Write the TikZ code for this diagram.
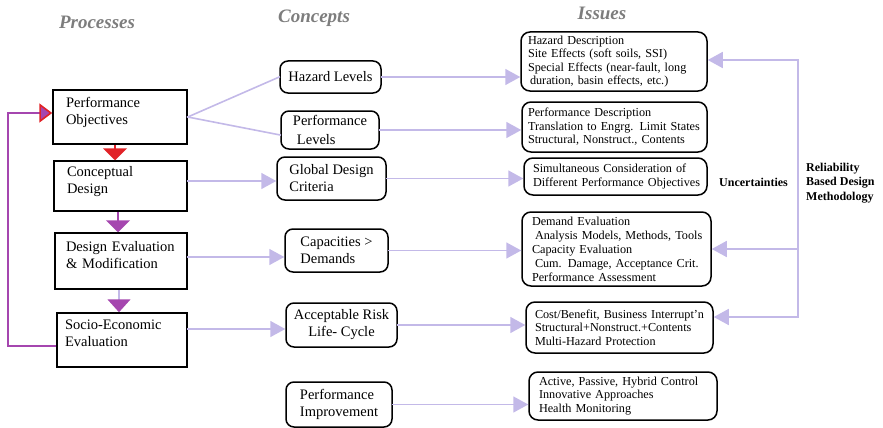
\documentclass[tikz,border=0pt]{standalone}
\usepackage{fontspec}
\setmainfont{Liberation Serif}
\usetikzlibrary{arrows.meta,positioning}
\hyphenpenalty=10000
\exhyphenpenalty=10000

\definecolor{lav}{RGB}{195,185,232}
\definecolor{ppurple}{RGB}{165,70,175}
\definecolor{rred}{RGB}{225,35,40}
\definecolor{ttlgray}{RGB}{125,125,125}

\tikzset{
  procbox/.style={draw, line width=1.5pt, rectangle, align=left, inner xsep=11pt, inner ysep=0pt,
    text depth=30pt, font=\fontsize{14.5}{17}\selectfont},
  concbox/.style={draw, line width=1.5pt, rounded corners=8pt, inner sep=0pt,
    font=\fontsize{14.5}{17}\selectfont},
  issuebox/.style={draw, line width=1.5pt, rounded corners=9pt, align=left, inner xsep=5pt, inner ysep=0pt,
    font=\fontsize{12.2}{13.4}\selectfont},
  ttl/.style={font=\fontsize{19}{22}\selectfont\bfseries\itshape, text=ttlgray},
  bflabel/.style={font=\fontsize{12}{14.5}\selectfont\bfseries, inner sep=0pt},
  lavline/.style={lav, line width=1.6pt, line cap=rect},
  lavarrow/.style={lavline, -{Triangle[length=15pt,width=16pt]}},
}

\begin{document}
\begin{tikzpicture}[x=1pt,y=-1pt]
\useasboundingbox (0,0) rectangle (883,428);

% column titles
\node[ttl] (ttlproc) at (97,22) {Processes};
\node[ttl] (ttlconc) at (314,18) {Concepts};
\node[ttl] (ttliss) at (602,13) {Issues};

% processes
\node[procbox, minimum width=134pt, minimum height=54pt, text width=112pt] (perfobj) at (120,117) {\hspace{2pt}Performance\\\hspace{2pt}Objectives};
\node[procbox, minimum width=133pt, minimum height=50pt, text width=111pt] (concdes) at (120.5,186) {\hspace{2pt}Conceptual\\\hspace{2pt}Design};
\node[procbox, minimum width=132pt, minimum height=56pt, text width=110pt] (deseval) at (121,261) {Design Evaluation\\\&~Modification};
\node[procbox, minimum width=130pt, minimum height=54pt, text width=114pt, inner xsep=8pt] (soceval) at (122,340) {Socio-Economic\\Evaluation};

% concepts
\node[concbox, minimum width=101pt, minimum height=32pt] (hazlev) at (330.5,77) {Hazard Levels};
\node[concbox, minimum width=98pt, minimum height=38pt, align=left] (perflev) at (330,130) {Performance\\[2pt]\hspace{4pt}Levels};
\node[concbox, minimum width=109pt, minimum height=43pt, align=left] (globcrit) at (331.5,178.5) {Global Design\\Criteria};
\node[concbox, minimum width=103pt, minimum height=43pt, align=left] (capdem) at (336.5,250.5) {Capacities >\\Demands};
\node[concbox, minimum width=111pt, minimum height=44pt, align=center] (accrisk) at (341.5,325) {Acceptable Risk\\Life- Cycle};
\node[concbox, minimum width=106pt, minimum height=45pt, align=left] (perfimp) at (339,404.5) {Performance\\Improvement};

% issues
\node[issuebox, minimum width=186pt, minimum height=59pt, text width=176pt] (hazdesc) at (614,61.5)
  {\hspace{2pt}Hazard Description\\\hspace{2pt}Site Effects (soft soils, SSI)\\\hspace{2pt}Special Effects (near-fault, long\\\hspace{4pt}duration, basin effects, etc.)};
\node[issuebox, minimum width=185pt, minimum height=50pt, text width=175pt] (perfdesc) at (614.5,127)
  {\hspace{1pt}Performance Description\\\hspace{1pt}Translation to Engrg. Limit States\\\hspace{1pt}Structural, Nonstruct., Contents};
\node[issuebox, minimum width=183pt, minimum height=37pt, text width=173pt] (simcons) at (615.5,176.5)
  {\hspace{4pt}Simultaneous Consideration of\\\hspace{4pt}Different Performance Objectives};
\node[issuebox, minimum width=189pt, minimum height=74pt, text width=179pt, font=\fontsize{12.2}{14}\selectfont] (demeval) at (616.5,249)
  {\hspace{5pt}Demand Evaluation\\\hspace{8pt}Analysis Models, Methods, Tools\\\hspace{5pt}Capacity Evaluation\\\hspace{8pt}Cum. Damage, Acceptance Crit.\\\hspace{5pt}Performance Assessment};
\node[issuebox, minimum width=187pt, minimum height=51pt, text width=177pt] (costben) at (619.5,327.5)
  {\hspace{4pt}Cost/Benefit, Business Interrupt'n\\\hspace{4pt}Structural+Nonstruct.+Contents\\\hspace{4pt}Multi-Hazard Protection};
\node[issuebox, minimum width=188pt, minimum height=48pt, text width=178pt] (actpas) at (623,396)
  {\hspace{5pt}Active, Passive, Hybrid Control\\\hspace{5pt}Innovative Approaches\\\hspace{5pt}Health Monitoring};

% side labels
\node[bflabel] (uncert) at (753.5,182) {Uncertainties};
\node[bflabel, align=left, anchor=west] (relbased) at (806,183) {Reliability\\Based Design\\Methodology};

% processes -> concepts
\draw[lavline] (perfobj.east) -- (hazlev.west);
\draw[lavline] (perfobj.east) -- ([yshift=-5pt]perflev.west);
\coordinate (cdout) at ([yshift=5pt]concdes.east);
\draw[lavarrow] (cdout) -- (cdout -| globcrit.west);
\coordinate (deout) at ([yshift=4pt]deseval.east);
\draw[lavarrow] (deout) -- (deout -| capdem.west);
\coordinate (seout) at ([yshift=11pt]soceval.east);
\draw[lavarrow] (seout) -- (seout -| accrisk.west);

% concepts -> issues
\draw[lavarrow] (hazlev.east) -- (hazlev.east -| hazdesc.west);
\draw[lavarrow] (perflev.east) -- (perflev.east -| perfdesc.west);
\draw[lavarrow] (globcrit.east) -- (globcrit.east -| simcons.west);
\draw[lavarrow] (capdem.east) -- (capdem.east -| demeval.west);
\draw[lavarrow] (accrisk.east) -- (accrisk.east -| costben.west);
\draw[lavarrow] (perfimp.east) -- (perfimp.east -| actpas.west);

% reliability feedback into the issues
\coordinate (reltop) at (798,60);
\coordinate (relbot) at (798,317);
\draw[lavarrow] (relbot) -- (reltop) -- (reltop -| hazdesc.east);
\draw[lavarrow] (reltop |- demeval.east) -- (demeval.east);
\draw[lavarrow] (relbot) -- (relbot -| costben.east);

% process chain
\coordinate (poout) at ([xshift=-5pt]perfobj.south);
\draw[rred, line width=1.6pt, -{Triangle[length=12pt,width=24pt]}] (poout) -- (poout |- concdes.north);
\coordinate (cdown) at ([xshift=-2.5pt]concdes.south);
\draw[ppurple, line width=1.6pt, -{Triangle[length=12pt,width=24pt]}] (cdown) -- (cdown |- deseval.north);
\coordinate (dedown) at ([xshift=-2pt]deseval.south);
\draw[lav, line width=1.6pt, -{Triangle[length=13pt,width=23pt,color=ppurple]}] (dedown) -- (dedown |- soceval.north);

% loop back to the objectives
\coordinate (fbbot) at (8,346);
\coordinate (fbtop) at (8,113);
\draw[ppurple, line width=1.6pt, -{Triangle[length=13pt,width=19pt,color=rred,fill=ppurple]}]
  (soceval.west |- fbbot) -- (fbbot) -- (fbtop) -- (perfobj.west |- fbtop);
\end{tikzpicture}
\end{document}
